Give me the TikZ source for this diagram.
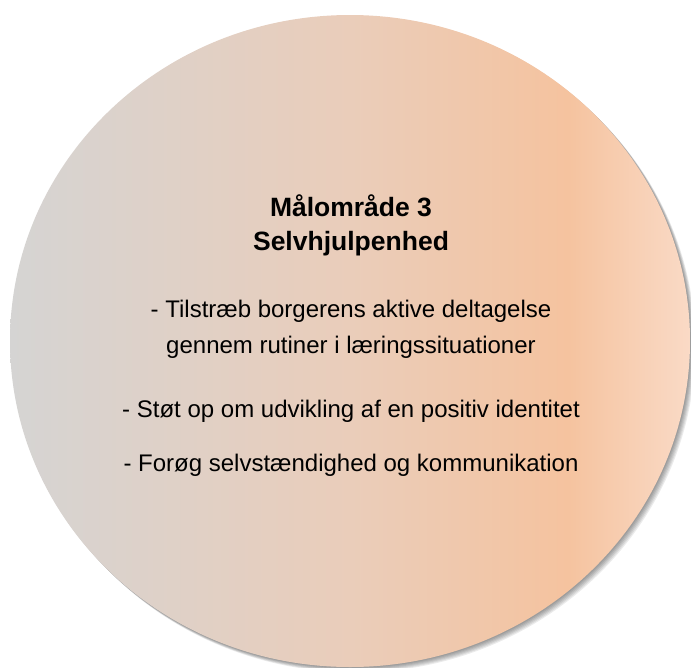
\documentclass[tikz,border=0pt]{standalone}
\usepackage{fontspec}
\setmainfont{Liberation Sans}
\usepackage{tikz}
\usetikzlibrary{positioning}
\definecolor{discgray}{HTML}{D5D4D3}
\definecolor{discmid}{HTML}{EACDBA}
\definecolor{discorange}{HTML}{F5C39F}
\definecolor{disclight}{HTML}{FADAC6}
\pgfdeclarehorizontalshading{discshade}{100bp}{color(0bp)=(discgray); color(25bp)=(discgray); color(50bp)=(discmid); color(66bp)=(discorange); color(75bp)=(disclight); color(100bp)=(disclight)}

\begin{document}
\begin{tikzpicture}[x=1pt, y=-1pt,
head/.style = {font=\fontsize{26.5}{34}\selectfont\bfseries, anchor=base},
item/.style = {font=\fontsize{24}{36}\selectfont, anchor=base}
                        ]
\def\disc{(350,341) coordinate (c) ellipse (340 and 326)}
\useasboundingbox (0,0) rectangle (691,667);
\clip (0,0) rectangle (691,667);
% soft shadow
\foreach \s in {1,...,6}
  \fill[black, opacity=0.08] (350+\s*0.9,341+\s*0.9) ellipse (340 and 326);
\shade[shading=discshade] \disc;
%\draw[gray!60, line width=0.4pt] \disc;
\node (title) [head] at (351,216) {Målområde 3};
\node (sub) [head] at (351,250) {Selvhjulpenhed};
\node (a1) [item] at (351,317) {- Tilstræb borgerens aktive deltagelse};
\node (a2) [item] at (351,353) {gennem rutiner i læringssituationer};
\node (b) [item] at (351,417) {- Støt op om udvikling af en positiv identitet};
\node (d) [item] at (351,471) {- Forøg selvstændighed og kommunikation};
\end{tikzpicture}
\end{document}
